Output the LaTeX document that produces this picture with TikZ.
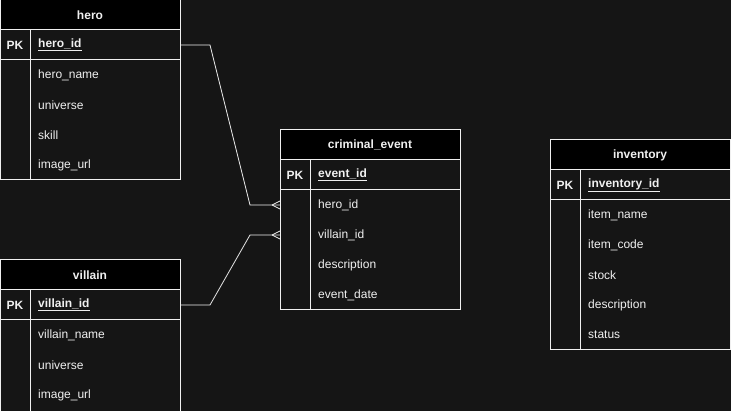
\documentclass[tikz,border=0pt]{standalone}
\usepackage{fontspec}
\setmainfont{Liberation Sans}
\usepackage{tikz}

\definecolor{canvas}{HTML}{151515}
\definecolor{ink}{HTML}{F0F0F0}

\tikzset{
  box/.style={draw=ink, line width=1pt, inner sep=0pt, outer sep=0pt, minimum width=180pt},
  head/.style={box, fill=black, text=ink, minimum height=30pt, font=\fontsize{12}{14}\selectfont\bfseries},
  keyrow/.style={box, fill=canvas, minimum height=30pt},
  body/.style={box, fill=canvas, minimum height=#1},
  tag/.style={text=ink, inner sep=0pt, font=\fontsize{12}{14}\selectfont\bfseries},
  keyname/.style={text=ink, inner sep=0pt, anchor=west, font=\fontsize{12}{14}\selectfont\bfseries},
  field/.style={text=ink, inner sep=0pt, anchor=west, font=\fontsize{12}{14}\selectfont},
  rule/.style={draw=ink, line width=1pt},
  link/.style={draw=ink, line width=0.8pt},
}

\begin{document}
\begin{tikzpicture}[x=1pt,y=-1pt]
        \useasboundingbox[fill=canvas](0,0)rectangle(731,411);
        % hero
        \node[head](hero)at(90,15){hero};
        \node[keyrow](hero-pk)at(90,45){};
        \node[body=120pt](hero-body)at(90,120){};
        \draw[rule](30,30)--(30,180);
        \node[tag]at(15,45){PK};
        \node[keyname](hero-key)at(38,45){\underline{hero\_id}};
        \foreach \f [count=\i] in {hero\_name,universe,skill,image\_url}
          \node[field](hero-f\i)at(38,{45+30*\i}){\f};
        % villain
        \node[head](villain)at(90,275){villain};
        \node[keyrow](villain-pk)at(90,305){};
        \node[body=94pt](villain-body)at(90,367){};
        \draw[rule](30,290)--(30,414);
        \node[tag]at(15,305){PK};
        \node[keyname](villain-key)at(38,305){\underline{villain\_id}};
        \foreach \f [count=\i] in {villain\_name,universe,image\_url}
          \node[field](villain-f\i)at(38,{305+30*\i}){\f};
        % criminal_event
        \node[head](event)at(370,145){criminal\_event};
        \node[keyrow](event-pk)at(370,175){};
        \node[body=120pt](event-body)at(370,250){};
        \draw[rule](310,160)--(310,310);
        \node[tag]at(295,175){PK};
        \node[keyname](event-key)at(318,175){\underline{event\_id}};
        \foreach \f [count=\i] in {hero\_id,villain\_id,description,event\_date}
          \node[field](event-f\i)at(318,{175+30*\i}){\f};
        % inventory
        \node[head](inventory)at(640,155){inventory};
        \node[keyrow](inventory-pk)at(640,185){};
        \node[body=150pt](inventory-body)at(640,275){};
        \draw[rule](580,170)--(580,350);
        \node[tag]at(565,185){PK};
        \node[keyname](inventory-key)at(588,185){\underline{inventory\_id}};
        \foreach \f [count=\i] in {item\_name,item\_code,stock,description,status}
          \node[field](inventory-f\i)at(588,{185+30*\i}){\f};
        % relations
        \coordinate(hero-in)at(event-body.west|-event-f1);
        \coordinate(villain-in)at(event-body.west|-event-f2);
        \draw[link](hero-pk.east)--++(30,0)--([xshift=-30pt]hero-in)--(hero-in);
        \draw[link]([xshift=-8pt]hero-in)--([yshift=4pt]hero-in)
                   ([xshift=-8pt]hero-in)--([yshift=-4pt]hero-in);
        \draw[link](villain-pk.east)--++(30,0)--([xshift=-30pt]villain-in)--(villain-in);
        \draw[link]([xshift=-8pt]villain-in)--([yshift=4pt]villain-in)
                   ([xshift=-8pt]villain-in)--([yshift=-4pt]villain-in);
\end{tikzpicture}
\end{document}
